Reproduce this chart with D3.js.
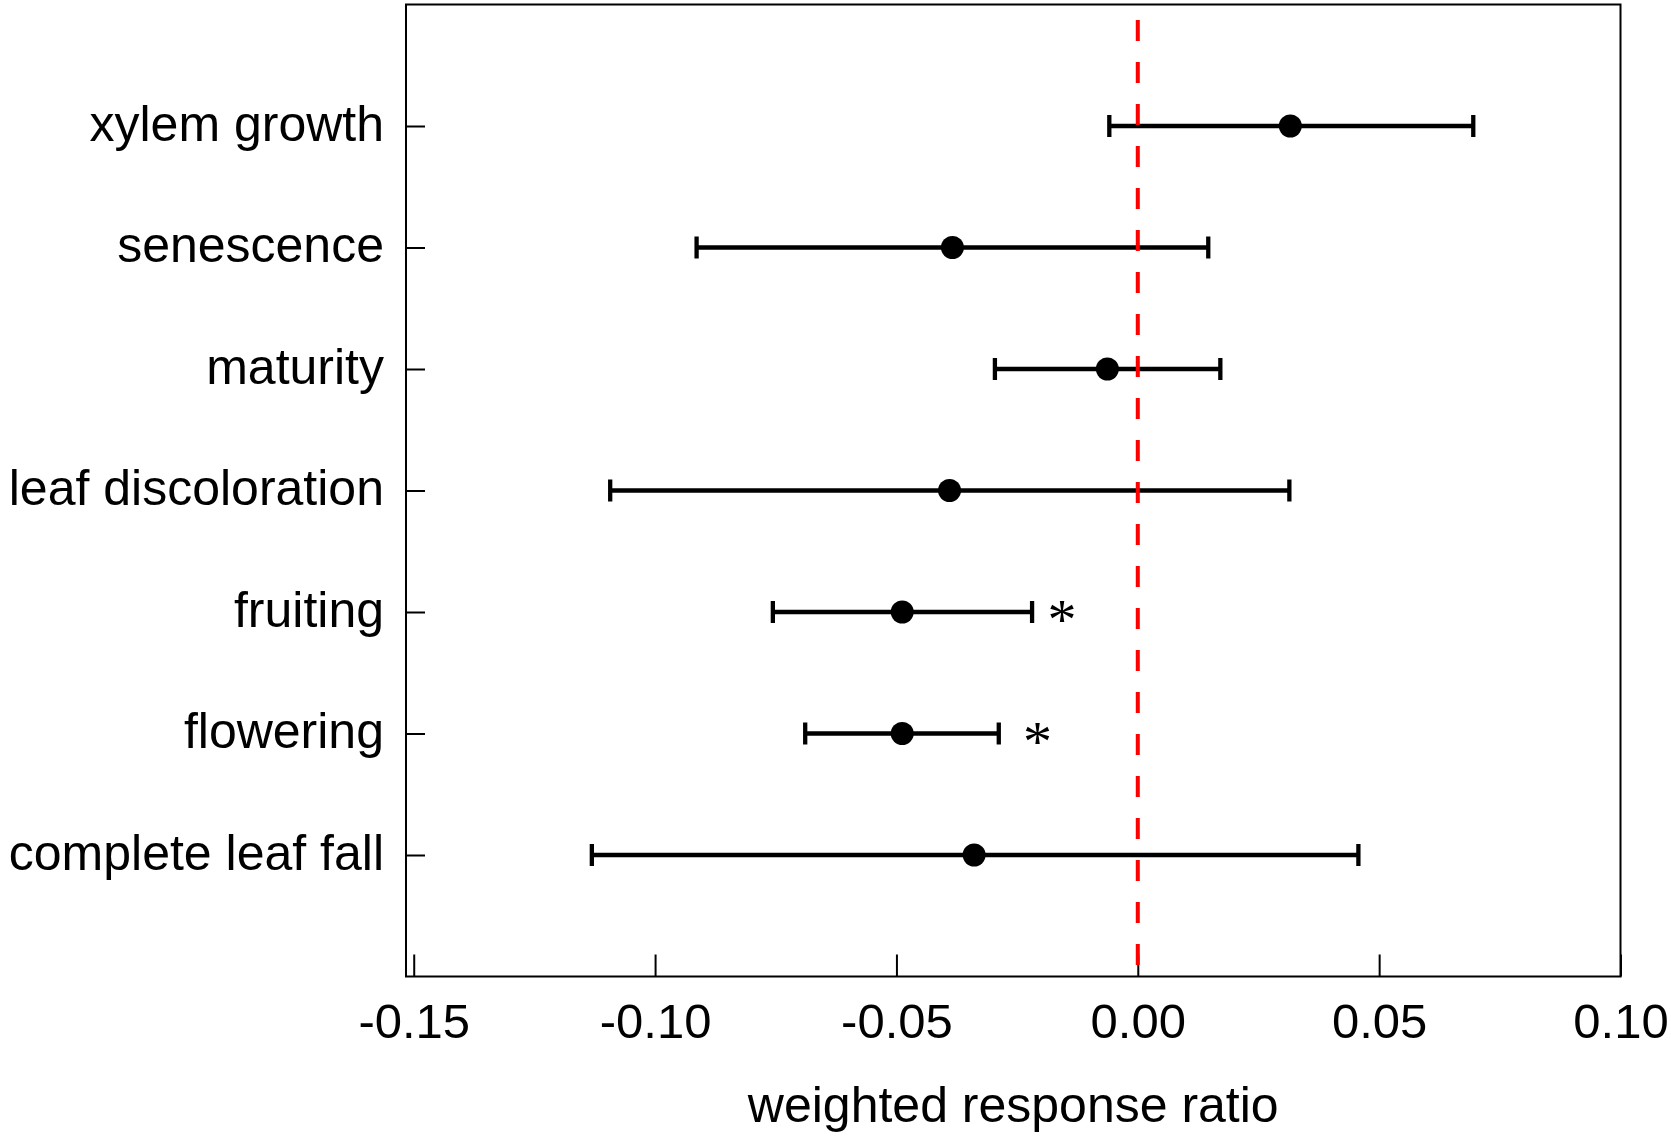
<!doctype html>
<html>
<head>
<meta charset="UTF-8">
<title>weighted response ratio</title>
<script src="https://cdn.jsdelivr.net/npm/d3@7"></script>
<style>
  body { margin: 0; background: #fff; }
  text { font-family: "Liberation Sans", Arial, sans-serif; }
</style>
</head>
<body>
<svg id="chart" width="1671" height="1136"></svg>
<script>
// data
var categories = ["xylem growth", "senescence", "maturity", "leaf discoloration",
                  "fruiting", "flowering", "complete leaf fall"];
var means = [0.0316, -0.0384, -0.0063, -0.0390, -0.0488, -0.0488, -0.0339];
var lower = [-0.0059, -0.0914, -0.0296, -0.1093, -0.0756, -0.0689, -0.1131];
var upper = [0.0695, 0.0146, 0.0171, 0.0314, -0.0219, -0.0288, 0.0457];
// significance marks (category, x position in data units)
var starCats = ["fruiting", "flowering"];
var starX = [-0.0157, -0.0208];
var xTicks = [-0.15, -0.10, -0.05, 0.00, 0.05, 0.10];
var xDomain = [-0.1516, 0.10];

var svg = d3.select("#chart");
// plot box (note: "top" is a reserved window prop, so use p*)
var pLeft = 406, pRight = 1620.5, pTop = 4.5, pBottom = 976.5;

var x = d3.scaleLinear().domain(xDomain).range([pLeft, pRight]);
var y = d3.scalePoint().domain(categories).range([pTop, pBottom]).padding(1);

var rows = categories.map(function(c, i) {
  return {cat: c, m: means[i], lo: lower[i], hi: upper[i]};
});

// x axis (ticks pointing inward)
var xAxis = svg.append("g")
  .attr("transform", "translate(0," + pBottom + ")")
  .call(d3.axisBottom(x).tickValues(xTicks).tickSize(-22).tickSizeOuter(0)
    .tickPadding(27).tickFormat(function(d) { return d.toFixed(2); }));
xAxis.select(".domain").remove();
xAxis.selectAll("line").attr("stroke", "#000").attr("stroke-width", 2);
xAxis.selectAll("text").attr("font-size", 49).attr("fill", "#000")
  .style("font-family", "'Liberation Sans', Arial, sans-serif");

// y axis
var yAxis = svg.append("g")
  .attr("transform", "translate(" + pLeft + ",0)")
  .call(d3.axisLeft(y).tickSize(-19).tickSizeOuter(0).tickPadding(22));
yAxis.select(".domain").remove();
yAxis.selectAll("line").attr("stroke", "#000").attr("stroke-width", 2);
yAxis.selectAll("text").attr("font-size", 50).attr("fill", "#000").attr("dy", "0.28em")
  .style("font-family", "'Liberation Sans', Arial, sans-serif");

// frame
svg.append("rect")
  .attr("x", pLeft).attr("y", pTop)
  .attr("width", pRight - pLeft).attr("height", pBottom - pTop)
  .attr("fill", "none").attr("stroke", "#000").attr("stroke-width", 2);

// error bars
var g = svg.append("g");
g.selectAll("line.ci").data(rows).enter().append("line")
  .attr("class", "ci")
  .attr("x1", function(d) { return x(d.lo); })
  .attr("x2", function(d) { return x(d.hi); })
  .attr("y1", function(d) { return y(d.cat); })
  .attr("y2", function(d) { return y(d.cat); })
  .attr("stroke", "#000").attr("stroke-width", 4.3);

["lo", "hi"].forEach(function(k) {
  g.selectAll("line.cap-" + k).data(rows).enter().append("line")
    .attr("class", "cap-" + k)
    .attr("x1", function(d) { return x(d[k]); })
    .attr("x2", function(d) { return x(d[k]); })
    .attr("y1", function(d) { return y(d.cat) - 11; })
    .attr("y2", function(d) { return y(d.cat) + 11; })
    .attr("stroke", "#000").attr("stroke-width", 4.3);
});

g.selectAll("circle").data(rows).enter().append("circle")
  .attr("cx", function(d) { return x(d.m); })
  .attr("cy", function(d) { return y(d.cat); })
  .attr("r", 11.5)
  .attr("fill", "#000");

// asterisks
g.selectAll("text.star").data(starCats).enter().append("text")
  .attr("class", "star")
  .attr("x", function(d, i) { return x(starX[i]); })
  .attr("y", function(d) { return y(d) + 27; })
  .attr("text-anchor", "middle")
  .attr("font-size", 58)
  .style("font-family", "'Liberation Serif', 'Times New Roman', serif")
  .text("*");

// zero reference line
svg.append("line")
  .attr("x1", x(0)).attr("x2", x(0))
  .attr("y1", 20).attr("y2", pBottom)
  .attr("stroke", "#ff0000").attr("stroke-width", 4)
  .attr("stroke-dasharray", "21,21");

// axis title
svg.append("text")
  .attr("x", (pLeft + pRight) / 2)
  .attr("y", 1122)
  .attr("text-anchor", "middle")
  .attr("font-size", 50)
  .text("weighted response ratio");
</script>
</body>
</html>
